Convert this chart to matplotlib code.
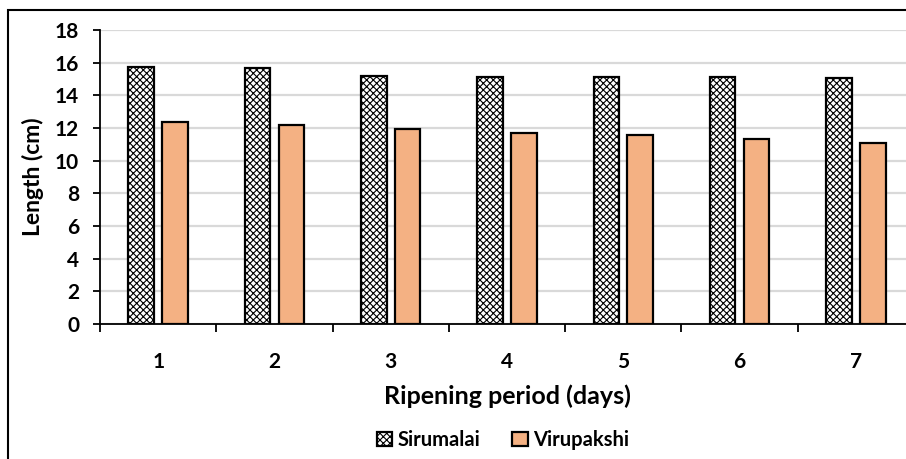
import matplotlib
matplotlib.use('Agg')
import matplotlib.pyplot as plt
import numpy as np
from matplotlib.patches import Rectangle

# data
days = ['1', '2', '3', '4', '5', '6', '7']
sirumalai = [15.75, 15.70, 15.16, 15.12, 15.12, 15.12, 15.06]
virupakshi = [12.35, 12.18, 11.94, 11.69, 11.60, 11.35, 11.10]
yticks = [0, 2, 4, 6, 8, 10, 12, 14, 16, 18]

plt.rcParams['font.family'] = ['Lato', 'DejaVu Sans']
plt.rcParams['font.weight'] = 'bold'
plt.rcParams['hatch.linewidth'] = 0.8

fig = plt.figure(figsize=(9.06, 4.59), dpi=100)
ax = fig.add_axes([100 / 906, 135 / 459, 814 / 906, 294 / 459])

x = np.arange(1, len(days) + 1)
ax.bar(x - 0.146, sirumalai, width=0.22, color='white', edgecolor='black',
       linewidth=1.6, hatch='xxxxx', label='Sirumalai', zorder=3)
ax.bar(x + 0.146, virupakshi, width=0.22, color='#f4b183', edgecolor='black',
       linewidth=1.6, label='Virupakshi', zorder=3)

ax.set_xlim(0.5, 7.5)
ax.set_ylim(0, 18)
ax.set_yticks(yticks)
ax.set_yticklabels([str(t) for t in yticks], fontsize=15, fontweight='bold')
ax.yaxis.grid(True, color='#d9d9d9', linewidth=1.6, zorder=0)

# category boundaries get the tick marks, labels sit in the middle
ax.set_xticks(np.arange(0.5, 8.5, 1.0))
ax.set_xticklabels([])
ax.set_xticks(x, minor=True)
ax.set_xticklabels(days, minor=True, fontsize=15, fontweight='bold')
ax.tick_params(axis='x', which='major', direction='out', length=6, width=1.3)
ax.tick_params(axis='x', which='minor', length=0, pad=20)
ax.tick_params(axis='y', direction='out', length=5, width=1.3, pad=10)

for s in ['top', 'right']:
    ax.spines[s].set_visible(False)
ax.spines['left'].set_linewidth(1.3)
ax.spines['bottom'].set_linewidth(1.3)

ax.set_xlabel('Ripening period (days)', fontsize=18, fontweight='bold', labelpad=9)
ax.set_ylabel('Length (cm)', fontsize=16.5, fontweight='bold', labelpad=8)

leg = fig.legend(loc='center', bbox_to_anchor=(503 / 906, 19 / 459), ncol=2,
                 frameon=False, fontsize=14.5, handlelength=0.75, handleheight=0.75,
                 handletextpad=0.25, columnspacing=1.6)

# outer chart frame, cut off at right and bottom like the reference
fig.patches.append(Rectangle((8 / 906, -0.1), 1.5, (459 - 10) / 459 + 0.1,
                             transform=fig.transFigure, fill=False,
                             edgecolor='black', linewidth=1.5))

fig.savefig('out.png', dpi=100)
